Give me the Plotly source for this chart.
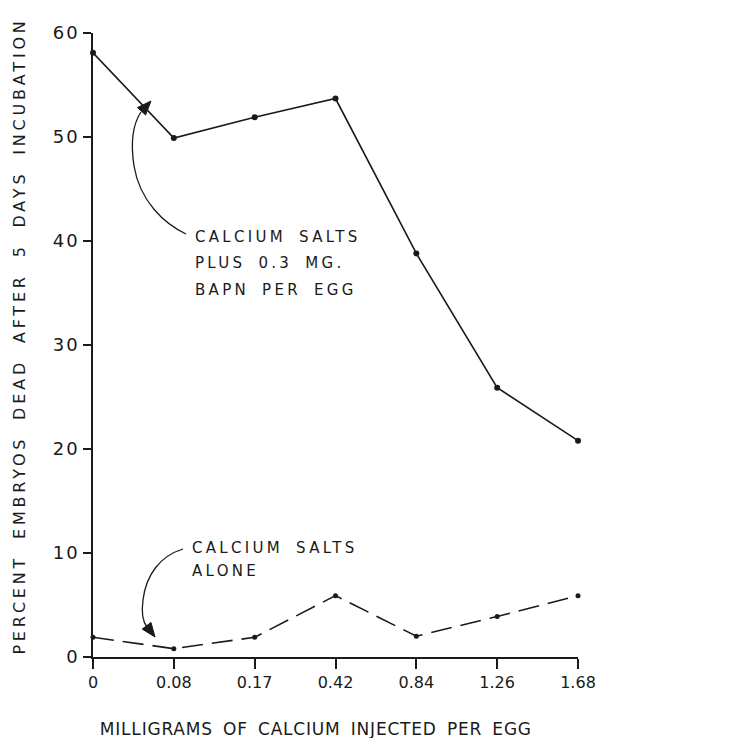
import json
import plotly.graph_objects as go

# ---- data ----
categories = ["0", "0.08", "0.17", "0.42", "0.84", "1.26", "1.68"]
with_bapn = [58.1, 49.9, 51.9, 53.7, 38.8, 25.9, 20.8]
calcium_alone = [1.9, 0.8, 1.9, 5.9, 2.0, 3.9, 5.9]
y_ticks = [0, 10, 20, 30, 40, 50, 60]

x_pos = list(range(len(categories)))

FONT = "DejaVu Sans"
INK = "#1a1a1a"

# plot area in pixels
L, T, W, H = 93, 33, 485, 624
FIG_W, FIG_H = 754, 738


def P(px, py):
    return (px - L) / W, (T + H - py) / H


def path_from_px(cmds):
    out = []
    for c in cmds:
        op, pts = c[0], c[1:]
        s = op + " " + " ".join("%.5f,%.5f" % P(*p) for p in pts)
        out.append(s)
    return " ".join(out)


def arrowhead(tip, frm, length=14, half=5.5):
    dx, dy = tip[0] - frm[0], tip[1] - frm[1]
    n = (dx * dx + dy * dy) ** 0.5
    ux, uy = dx / n, dy / n
    bx, by = tip[0] - length * ux, tip[1] - length * uy
    px_, py_ = -uy, ux
    c1 = (bx + half * px_, by + half * py_)
    c2 = (bx - half * px_, by - half * py_)
    return path_from_px([("M", tip), ("L", c1), ("L", c2)]) + " Z"


fig = go.Figure()
fig.add_trace(go.Scatter(
    x=x_pos, y=with_bapn, mode="lines+markers",
    line=dict(color=INK, width=1.6),
    marker=dict(color=INK, size=6),
    cliponaxis=False, showlegend=False,
))
fig.add_trace(go.Scatter(
    x=x_pos, y=calcium_alone, mode="lines+markers",
    line=dict(color=INK, width=1.6, dash="21px,9px"),
    marker=dict(color=INK, size=5),
    cliponaxis=False, showlegend=False,
))

shapes = []
# upper curved arrow
up_path = path_from_px([
    ("M", (186, 234)),
    ("C", (165, 224), (140, 202), (134, 166)),
    ("C", (130, 140), (133, 124), (141, 112)),
])
shapes.append(dict(type="path", xref="paper", yref="paper", path=up_path,
                   line=dict(color=INK, width=1.3)))
shapes.append(dict(type="path", xref="paper", yref="paper",
                   path=arrowhead((151, 101), (140, 113)),
                   fillcolor=INK, line=dict(color=INK, width=1)))
# lower curved arrow
lo_path = path_from_px([
    ("M", (183, 549)),
    ("C", (160, 556), (146, 575), (143, 600)),
    ("C", (141, 615), (143, 622), (147, 627)),
])
shapes.append(dict(type="path", xref="paper", yref="paper", path=lo_path,
                   line=dict(color=INK, width=1.3)))
shapes.append(dict(type="path", xref="paper", yref="paper",
                   path=arrowhead((155, 637), (146, 625)),
                   fillcolor=INK, line=dict(color=INK, width=1)))

annotations = []
spacing = []


def add_text(text, px, py, size, xanchor="left", angle=0, ls=0, ws=0):
    x, y = P(px, py)
    annotations.append(dict(
        text=text, xref="paper", yref="paper", x=x, y=y,
        xanchor=xanchor, yanchor="middle", showarrow=False,
        align="left" if xanchor == "left" else "center",
        textangle=angle, font=dict(family=FONT, size=size, color=INK),
    ))
    spacing.append([ls, ws])


add_text("PERCENT EMBRYOS DEAD AFTER 5 DAYS INCUBATION", 19, 336, 16,
         xanchor="center", angle=-90, ls=3.8, ws=7)
add_text("MILLIGRAMS OF CALCIUM INJECTED PER EGG", 316, 729, 17,
         xanchor="center", ls=0.8, ws=4)
add_text("CALCIUM SALTS", 193, 237, 15, ls=3.3, ws=5)
add_text("PLUS 0.3 MG.", 193, 263, 15, ls=3.3, ws=5)
add_text("BAPN PER EGG", 193, 290, 15, ls=3.3, ws=5)
add_text("CALCIUM SALTS", 190, 548, 15, ls=3.3, ws=5)
add_text("ALONE", 190, 571, 15, ls=3.3, ws=5)

fig.update_layout(
    width=FIG_W, height=FIG_H, autosize=False,
    margin=dict(l=L, r=FIG_W - L - W, t=T, b=FIG_H - T - H),
    paper_bgcolor="white", plot_bgcolor="white",
    font=dict(family=FONT, size=16, color=INK),
    shapes=shapes, annotations=annotations,
    xaxis=dict(
        range=[0, len(categories) - 1], tickvals=x_pos, ticktext=categories,
        showgrid=False, zeroline=False, showline=True, linecolor=INK, linewidth=1.6,
        ticks="outside", ticklen=10, tickwidth=1.6, tickcolor=INK,
        tickfont=dict(family=FONT, size=16, color=INK),
    ),
    yaxis=dict(
        range=[0, 60], tickvals=y_ticks,
        showgrid=False, zeroline=False, showline=True, linecolor=INK, linewidth=1.6,
        ticks="outside", ticklen=8, tickwidth=1.6, tickcolor=INK,
        tickfont=dict(family=FONT, size=18, color=INK),
    ),
)

post = """
var gd = document.getElementById('{plot_id}');
var sp = %s;
function applySpacing(){
  gd.querySelectorAll('g.annotation').forEach(function(g){
    var i = +g.getAttribute('data-index');
    var t = g.querySelector('text');
    if (t && sp[i]) {
      t.style.letterSpacing = sp[i][0] + 'px';
      t.style.wordSpacing = sp[i][1] + 'px';
    }
  });
  gd.querySelectorAll('.ytick text').forEach(function(t){
    t.style.letterSpacing = '2px';
  });
}
applySpacing();
gd.on && gd.on('plotly_afterplot', applySpacing);
""" % json.dumps(spacing)

fig.write_html("out.html", config={"responsive": False, "displayModeBar": False},
               post_script=post)
